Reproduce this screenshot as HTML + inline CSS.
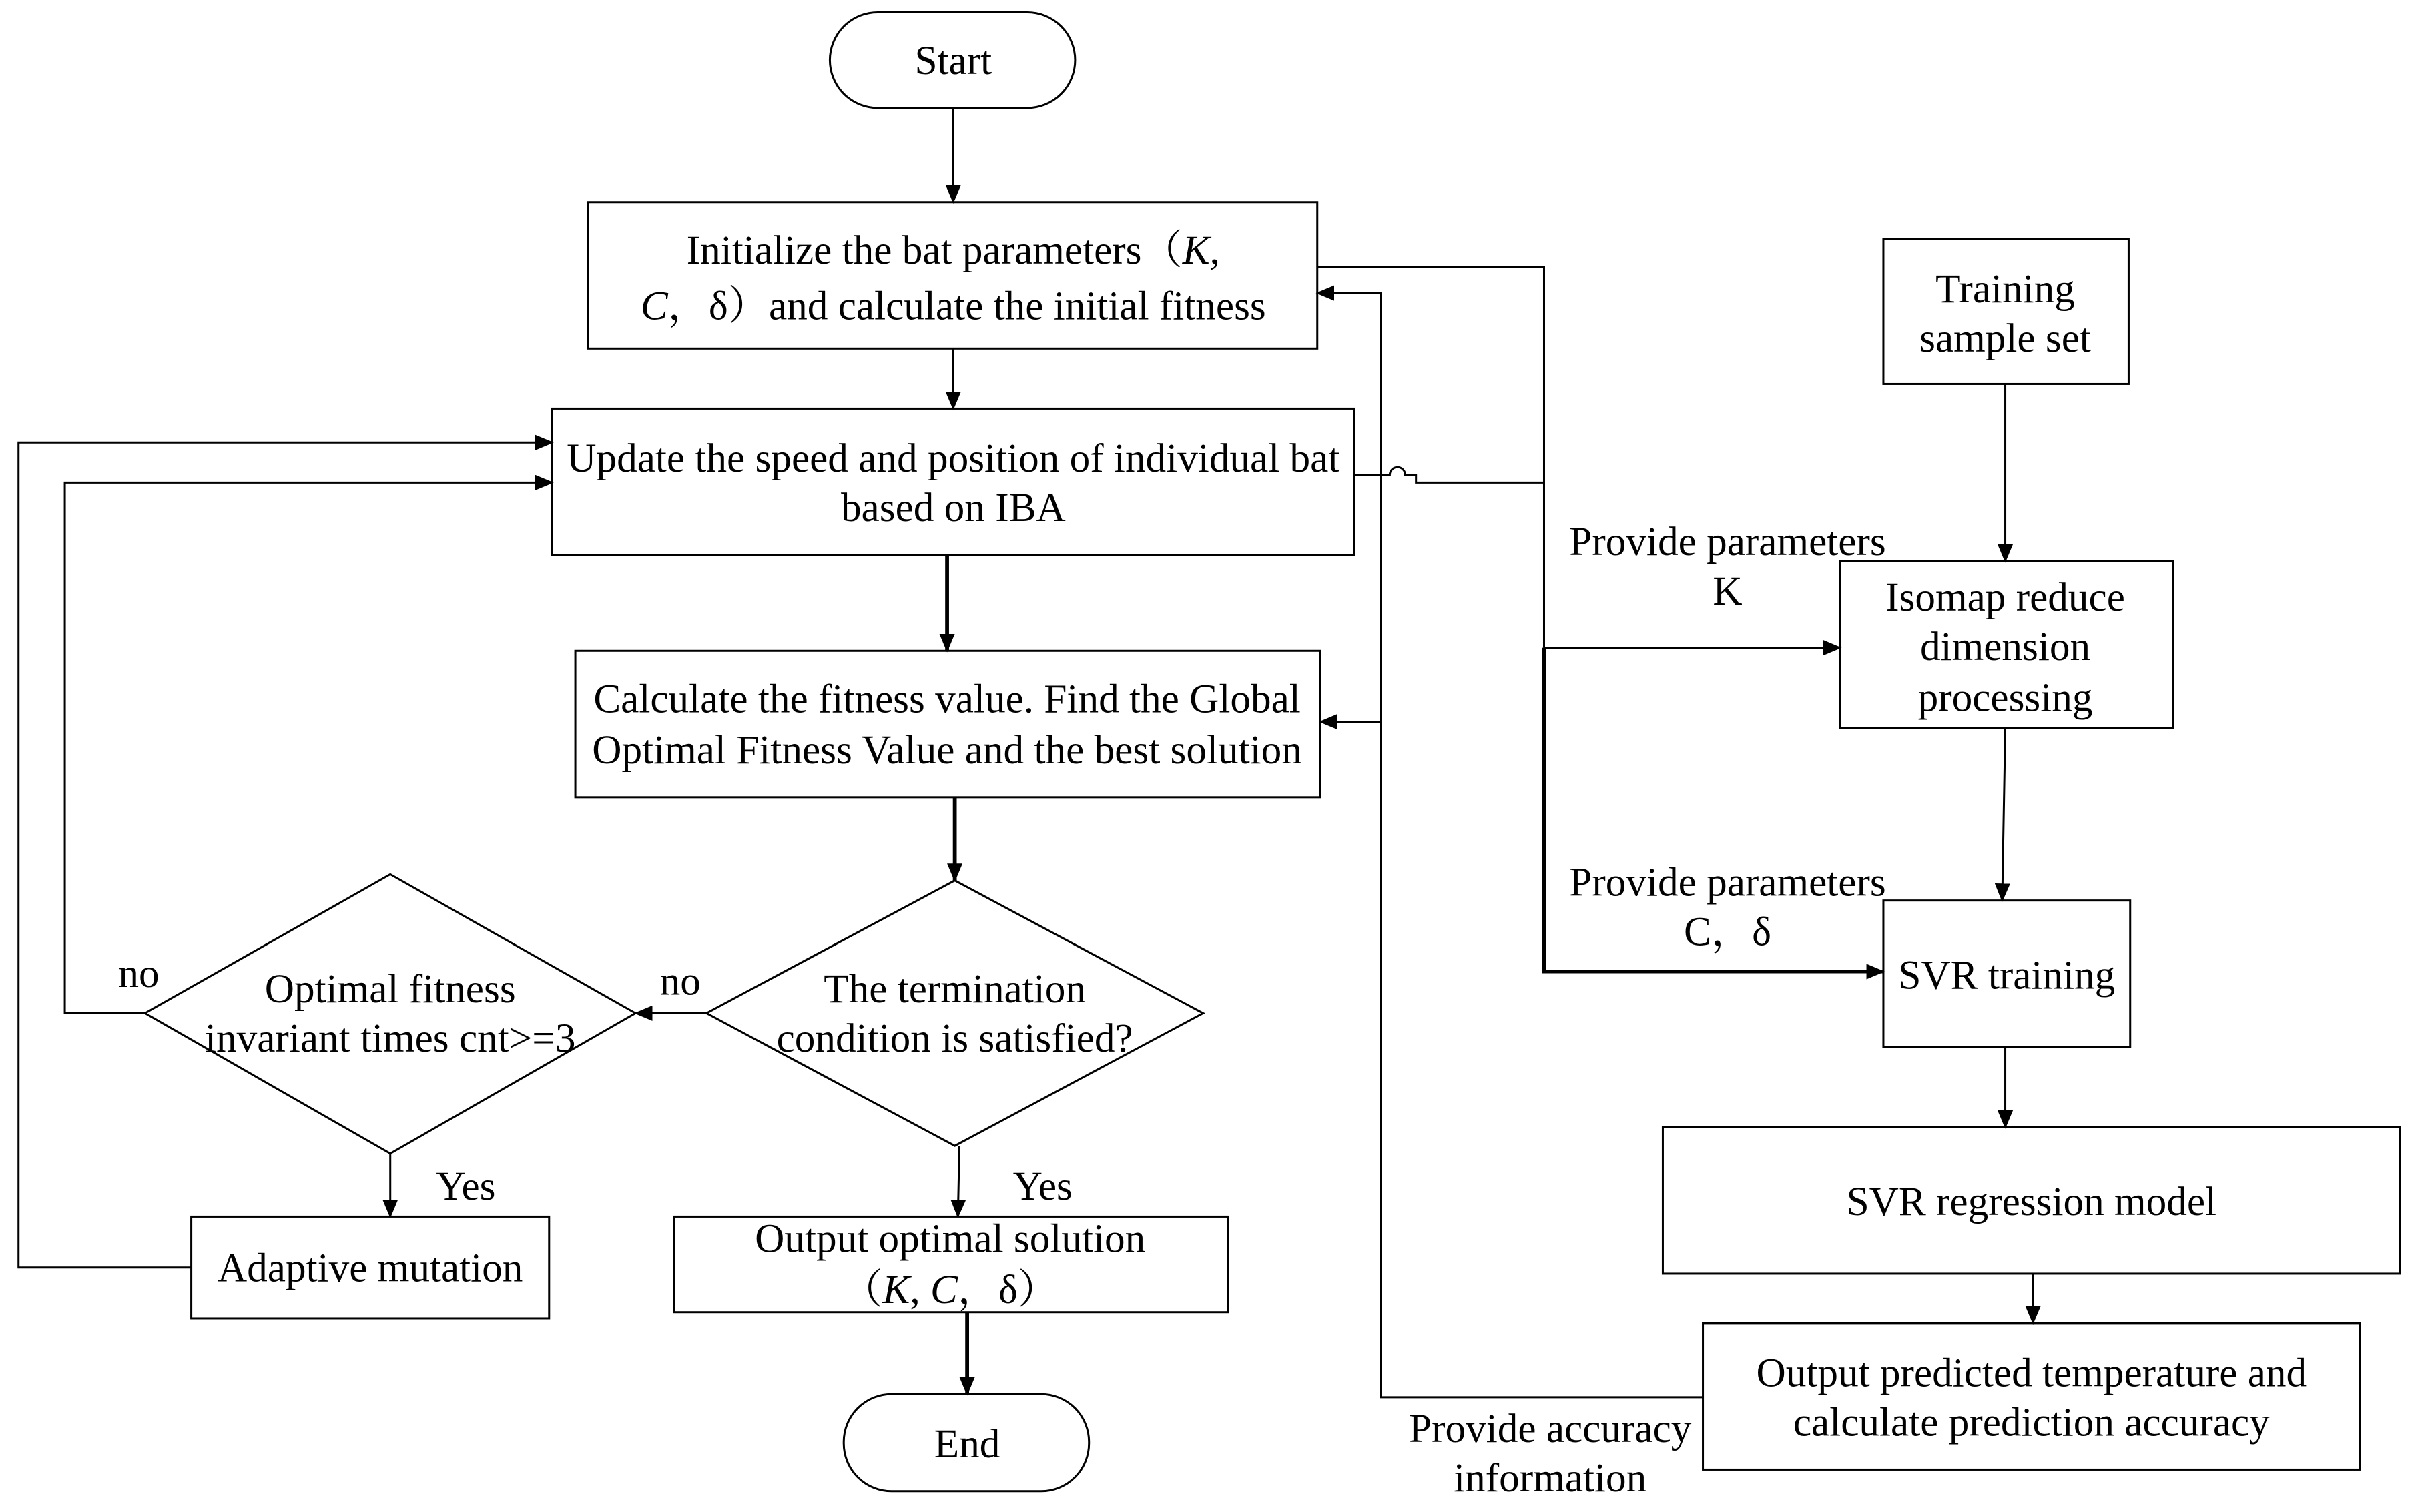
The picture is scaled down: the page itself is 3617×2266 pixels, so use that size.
<!DOCTYPE html>
<html><head><meta charset="utf-8"><style>
html,body{margin:0;padding:0;background:#fff;}
svg{display:block;}
text{font-family:"Liberation Serif","Noto Serif CJK SC",serif;font-size:26.5px;fill:#000;}
</style></head><body>
<svg width="3617" height="2266" viewBox="0 0 1565 980.5" preserveAspectRatio="none" xmlns="http://www.w3.org/2000/svg">
<defs>
<marker id="a" markerWidth="12" markerHeight="10" refX="11" refY="5" orient="auto" markerUnits="userSpaceOnUse">
<path d="M0,0 L12,5 L0,10 Z" fill="#000"/></marker>
</defs>
<g fill="none" stroke="#000" stroke-width="1.3">
<rect x="538" y="8" width="159" height="62" rx="31"/>
<rect x="381" y="131" width="473" height="95"/>
<rect x="358" y="265" width="520" height="95"/>
<rect x="373" y="422" width="483" height="95"/>
<polygon points="619,571 780,657 619,743 458,657"/>
<polygon points="253,567 412,657 253,748 94,657"/>
<rect x="124" y="789" width="232" height="66"/>
<rect x="437" y="789" width="359" height="62"/>
<rect x="547" y="904" width="159" height="63" rx="31"/>
<rect x="1221" y="155" width="159" height="94"/>
<rect x="1193" y="364" width="216" height="108"/>
<rect x="1221" y="584" width="160" height="95"/>
<rect x="1078" y="731" width="478" height="95"/>
<rect x="1104" y="858" width="426" height="95"/>

<line x1="618" y1="70" x2="618" y2="131" marker-end="url(#a)"/>
<line x1="618" y1="226" x2="618" y2="265" marker-end="url(#a)"/>
<line x1="614" y1="360" x2="614" y2="422" stroke-width="2.5" marker-end="url(#a)"/>
<line x1="619" y1="517" x2="619" y2="571" stroke-width="2.5" marker-end="url(#a)"/>
<line x1="458" y1="657" x2="412" y2="657" marker-end="url(#a)"/>
<polyline points="94,657 42,657 42,313 358,313" marker-end="url(#a)"/>
<line x1="253" y1="748" x2="253" y2="789" marker-end="url(#a)"/>
<polyline points="124,822 12,822 12,287 358,287" marker-end="url(#a)"/>
<line x1="622" y1="743" x2="621" y2="789" marker-end="url(#a)"/>
<line x1="627" y1="851" x2="627" y2="904" stroke-width="2.5" marker-end="url(#a)"/>
<line x1="1300" y1="249" x2="1300" y2="364" marker-end="url(#a)"/>
<line x1="1300" y1="472" x2="1298" y2="584" marker-end="url(#a)"/>
<line x1="1300" y1="679" x2="1300" y2="731" marker-end="url(#a)"/>
<line x1="1318" y1="826" x2="1318" y2="858" marker-end="url(#a)"/>
<polyline points="1104,906 895,906 895,190 854,190" marker-end="url(#a)"/>
<line x1="895" y1="468" x2="856" y2="468" marker-end="url(#a)"/>
<polyline points="854,173 1001,173 1001,420"/>
<line x1="1001" y1="420" x2="1193" y2="420" marker-end="url(#a)"/>
<polyline points="1001,420 1001,630 1221,630" stroke-width="2.2" marker-end="url(#a)"/>
<path d="M878,308 H901 A5,5 0 0 1 911,308 H918 V313 H1001"/>
</g>
<g text-anchor="middle">
<text x="618" y="48">Start</text>
<text x="618" y="171">Initialize the bat parameters（<tspan font-style="italic">K</tspan>,</text>
<text x="618" y="207"><tspan font-style="italic">C</tspan>，δ）and calculate the  initial fitness</text>
<text x="618" y="306">Update the speed and position of individual bat</text>
<text x="618" y="338">based on IBA</text>
<text x="614" y="462">Calculate the fitness value. Find the Global</text>
<text x="614" y="495">Optimal Fitness Value and the best solution</text>
<text x="619" y="650">The termination</text>
<text x="619" y="682">condition is satisfied?</text>
<text x="253" y="650">Optimal fitness</text>
<text x="253" y="682">invariant times cnt&gt;=3</text>
<text x="240" y="831">Adaptive mutation</text>
<text x="616" y="812">Output optimal solution</text>
<text x="616" y="845">（<tspan font-style="italic">K</tspan>, <tspan font-style="italic">C</tspan>，δ）</text>
<text x="627" y="945">End</text>
<text x="1300" y="196">Training</text>
<text x="1300" y="228">sample set</text>
<text x="1300" y="396">Isomap reduce</text>
<text x="1300" y="428">dimension</text>
<text x="1300" y="461">processing</text>
<text x="1301" y="641">SVR training</text>
<text x="1317" y="788">SVR regression model</text>
<text x="1317" y="899">Output predicted temperature and</text>
<text x="1317" y="931">calculate prediction accuracy</text>
<text x="1120" y="360">Provide parameters</text>
<text x="1120" y="392">K</text>
<text x="1120" y="581">Provide parameters</text>
<text x="1120" y="613">C，δ</text>
<text x="1005" y="935">Provide accuracy</text>
<text x="1005" y="967">information</text>
<text x="441" y="645">no</text>
<text x="90" y="640">no</text>
<text x="302" y="778">Yes</text>
<text x="676" y="778">Yes</text>
</g>
</svg>
</body></html>
